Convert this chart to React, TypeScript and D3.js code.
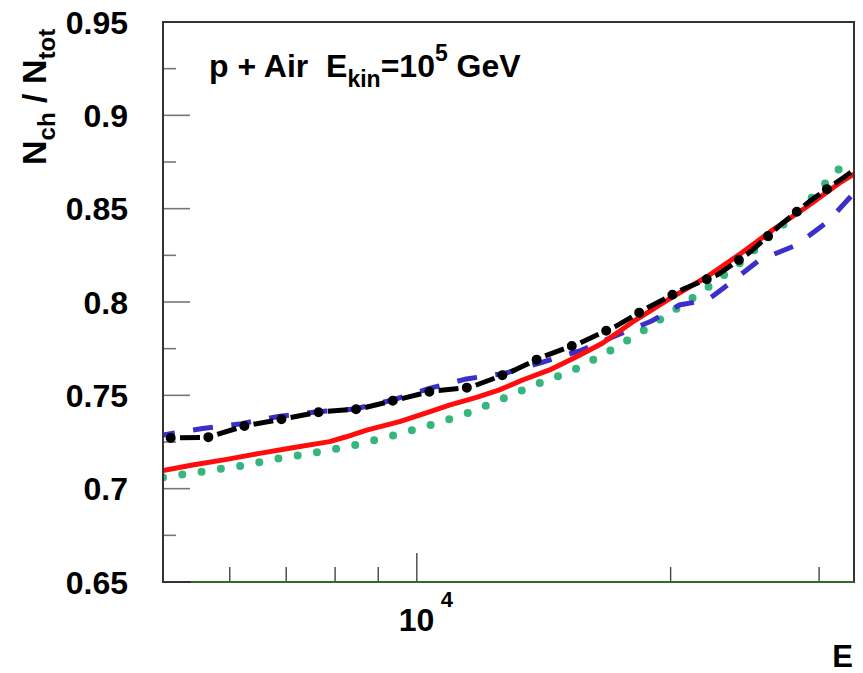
import React from 'react';
import * as d3 from 'd3';

// axis settings
const xDomain = [5000, 33000];
const yDomain = [0.65, 0.95];
const yMajor = [0.65, 0.7, 0.75, 0.8, 0.85, 0.9, 0.95];
const yLabels = ['0.65', '0.7', '0.75', '0.8', '0.85', '0.9', '0.95'];
const yMinor = [0.675, 0.725, 0.775, 0.825, 0.875, 0.925];
const xMajor = [10000];
const xMinor = [6000, 7000, 8000, 9000, 20000, 30000];

// red solid
const redE = [5000, 5420, 5950, 6510, 7120, 7880, 8250, 8720, 9540, 10350, 10930, 11770, 12530, 13350, 14370, 15470, 16600, 18030, 20110, 22060, 24140, 26420, 28990, 31730, 33000];
const redN = [0.7097, 0.7127, 0.7157, 0.7189, 0.7219, 0.7252, 0.7278, 0.7314, 0.7359, 0.7412, 0.7448, 0.7489, 0.7529, 0.7582, 0.7636, 0.7707, 0.7779, 0.7893, 0.8027, 0.8134, 0.8255, 0.8386, 0.8509, 0.8638, 0.8685];

// green dotted
const greenE = [5000, 5550, 6160, 6840, 7580, 8410, 9330, 10300, 11420, 12600, 13870, 15300, 16830, 18480, 20220, 22060, 24140, 26200, 28440, 30610, 32610];
const greenN = [0.7060, 0.7091, 0.7121, 0.7161, 0.7193, 0.7232, 0.7282, 0.7336, 0.7400, 0.7479, 0.7559, 0.7632, 0.7731, 0.7841, 0.7957, 0.8073, 0.8207, 0.8350, 0.8490, 0.8643, 0.8771];

// black dash-dot
const blackE = [5000, 5650, 6260, 6930, 7700, 8540, 9450, 10430, 11570, 12820, 14110, 15590, 17190, 18830, 20680, 22790, 24890, 27000, 29360, 32170, 33000];
const blackN = [0.7271, 0.7275, 0.7337, 0.7373, 0.7412, 0.7427, 0.7475, 0.7523, 0.7543, 0.7618, 0.7707, 0.7779, 0.7868, 0.7972, 0.8068, 0.8148, 0.8270, 0.8413, 0.8546, 0.8671, 0.8707];

// blue dashed
const blueE = [5000, 5570, 6160, 6850, 7580, 8440, 9360, 10350, 11450, 12700, 14060, 15640, 17250, 18990, 20490, 22120, 23360, 25490, 28210, 30700, 33000];
const blueN = [0.7288, 0.7322, 0.7346, 0.7387, 0.7411, 0.7427, 0.7475, 0.7537, 0.7588, 0.7617, 0.7676, 0.7740, 0.7821, 0.7898, 0.7984, 0.8011, 0.8091, 0.8225, 0.8305, 0.8429, 0.8584];

const W = 863, H = 673;
const left = 163, right = 854, top = 22, bottom = 582;
const font = "'Liberation Sans', Arial, Helvetica, sans-serif";

export default function App() {
  const x = d3.scaleLog().domain(xDomain).range([left, right]);
  const y = d3.scaleLinear().domain(yDomain).range([bottom, top]);

  const line = (es: number[], ns: number[]) =>
    d3.line<number>().x((d, i) => x(es[i])).y(d => y(d))(ns) || '';

  const red = line(redE, redN);
  const green = line(greenE, greenN);
  const black = line(blackE, blackN);
  const blue = line(blueE, blueN);

  return (
    <svg width={W} height={H} style={{position: 'absolute', left: 0, top: 0, background: '#fff'}}>
      <defs>
        <clipPath id="plot">
          <rect x={left} y={top} width={right - left} height={bottom - top} />
        </clipPath>
      </defs>

      {/* ticks */}
      {yMajor.map(v => (
        <line key={'ym' + v} x1={left} x2={left + 27} y1={y(v)} y2={y(v)} stroke="#777" strokeWidth={1.6} />
      ))}
      {yMinor.map(v => (
        <line key={'yn' + v} x1={left} x2={left + 13} y1={y(v)} y2={y(v)} stroke="#777" strokeWidth={1.6} />
      ))}
      {xMajor.map(v => (
        <line key={'xm' + v} x1={x(v)} x2={x(v)} y1={bottom} y2={bottom - 29} stroke="#444" strokeWidth={1.4} />
      ))}
      {xMinor.map(v => (
        <line key={'xn' + v} x1={x(v)} x2={x(v)} y1={bottom} y2={bottom - 15} stroke="#444" strokeWidth={1.4} />
      ))}

      {/* curves */}
      <g clipPath="url(#plot)" fill="none">
        <path d={green} stroke="#35b67c" strokeWidth={8} strokeLinecap="round" strokeDasharray="0 19.5" />
        <path d={blue} stroke="#3a2fc8" strokeWidth={5} strokeDasharray="20 18.5" strokeDashoffset={8} />
        <path d={red} stroke="#ff0d0d" strokeWidth={5} strokeLinejoin="round" />
        <path d={black} stroke="#000" strokeWidth={5} strokeDasharray="20 17.7" strokeDashoffset={20.7} />
        <path d={black} stroke="#000" strokeWidth={10} strokeLinecap="round" strokeDasharray="0 37.7" strokeDashoffset={30} />
      </g>

      {/* frame */}
      <rect x={left} y={top} width={right - left} height={bottom - top} fill="none" stroke="#333" strokeWidth={2} />
      <line x1={191} x2={right} y1={bottom} y2={bottom} stroke="#2f6b2f" strokeWidth={2} />

      {/* y labels */}
      {yMajor.map((v, i) => (
        <text key={'yl' + v} x={128} y={y(v) + 11.5} textAnchor="end" fontFamily={font} fontWeight="bold" fontSize={32} fill="#000">
          {yLabels[i]}
        </text>
      ))}

      {/* x label 10^4 */}
      <text x={x(10000) - 18} y={631} fontFamily={font} fontWeight="bold" fontSize={32} fill="#000">10</text>
      <text x={x(10000) + 24} y={607} fontFamily={font} fontWeight="bold" fontSize={22} fill="#000">4</text>
      <text x={853} y={667} textAnchor="end" fontFamily={font} fontWeight="bold" fontSize={31} fill="#000">E</text>

      {/* y title */}
      <text transform="translate(46,165) rotate(-90)" fontFamily={font} fontWeight="bold" fontSize={34} fill="#000" style={{whiteSpace: 'pre'}}>
        N<tspan fontSize={24} dy={9}>ch</tspan>
        <tspan dy={-9}> / N</tspan>
        <tspan fontSize={24} dy={9}>tot</tspan>
      </text>

      {/* annotation */}
      <text x={209} y={77} fontFamily={font} fontWeight="bold" fontSize={32} fill="#000" style={{whiteSpace: 'pre'}}>
        <tspan>{'p + Air  E'}</tspan>
        <tspan fontSize={23} dy={10}>kin</tspan>
        <tspan dy={-10}>=10</tspan>
        <tspan fontSize={23} dy={-16}>5</tspan>
        <tspan dy={16}>{' GeV'}</tspan>
      </text>
    </svg>
  );
}
